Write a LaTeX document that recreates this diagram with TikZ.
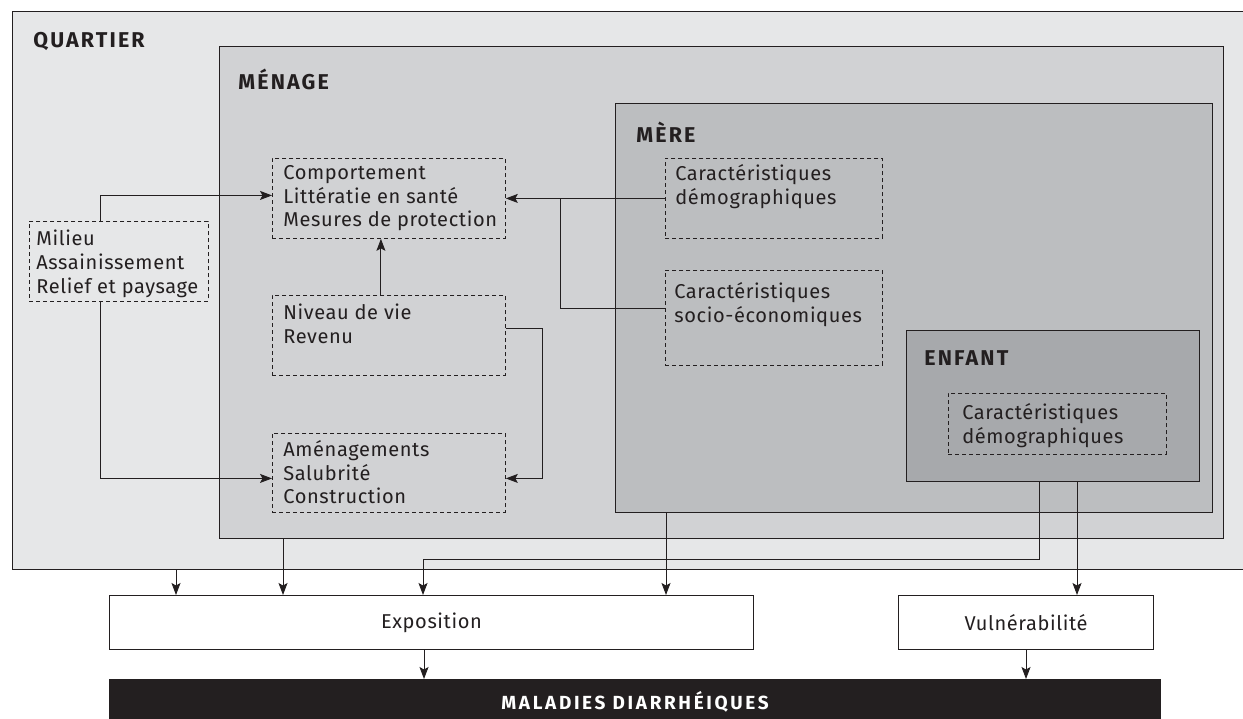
\documentclass[tikz,border=0pt]{standalone}
\usepackage{fontspec}
\setmainfont[LetterSpace=3]{Fira Sans}
\newfontfamily\etiquette[LetterSpace=10]{Fira Sans}
\newfontfamily\bandeau[LetterSpace=14]{Fira Sans}
\usetikzlibrary{arrows.meta,calc}
\definecolor{quartiercol}{HTML}{E6E7E8}
\definecolor{menagecol}{HTML}{D1D2D4}
\definecolor{merecol}{HTML}{BCBEC0}
\definecolor{enfantcol}{HTML}{A7A9AC}
\definecolor{trait}{HTML}{231F20}
\tikzset{
  zone/.style={draw=trait, line width=0.7pt, anchor=north west, inner sep=0pt},
  pointille/.style={draw=trait, line width=0.5pt, dash pattern=on 0.8mm off 0.6mm, anchor=north west, inner sep=0pt},
  boite/.style={draw=trait, line width=0.6pt, fill=white, anchor=north west, inner sep=0pt, text=trait, font=\fontsize{11.4}{13.4}\selectfont},
  texte/.style={anchor=north west, inner sep=0pt, align=left, text=trait, font=\fontsize{11.4}{13.5}\selectfont},
  titre/.style={anchor=west, inner sep=0pt, text=trait, font=\etiquette\bfseries\fontsize{12.2}{14}\selectfont},
  fleche/.style={draw=trait, line width=0.5pt, -{Stealth[length=2.4mm,width=1.8mm,inset=0.5mm]}},
  lien/.style={draw=trait, line width=0.5pt}
}
\begin{document}
\begin{tikzpicture}[x=0.02cm,y=-0.02cm]
\useasboundingbox (0,0) rectangle (1243,719);
\clip (0,0) rectangle (1243,719);
\fill[white] (0,0) rectangle (1243,719);

% niveaux emboites
\node[zone, fill=quartiercol, minimum width=24.8cm, minimum height=11.16cm] (quartier) at (12,11) {};
\node[zone, fill=menagecol, minimum width=20.08cm, minimum height=9.84cm] (menage) at (219,46) {};
\node[zone, fill=merecol, minimum width=11.94cm, minimum height=8.18cm] (mere) at (615,103) {};
\node[zone, fill=enfantcol, minimum width=5.86cm, minimum height=3.02cm] (enfant) at (906,330) {};
\node[titre] (quartier titre) at ($(quartier.north west)+(21,30)$) {QUARTIER};
\node[titre] (menage titre) at ($(menage.north west)+(19,33)$) {MÉNAGE};
\node[titre] (mere titre) at ($(mere.north west)+(21,29)$) {MÈRE};
\node[titre] (enfant titre) at ($(enfant.north west)+(18,28)$) {ENFANT};

% facteurs
\node[pointille, minimum width=3.58cm, minimum height=1.6cm] (milieu) at (29,221) {};
\node[pointille, minimum width=4.66cm, minimum height=1.6cm] (comport) at (272,158) {};
\node[pointille, minimum width=4.66cm, minimum height=1.6cm] (niveau) at (272,295) {};
\node[pointille, minimum width=4.66cm, minimum height=1.58cm] (amen) at (272,433) {};
\node[pointille, minimum width=4.34cm, minimum height=1.6cm] (demo) at (665,158) {};
\node[pointille, minimum width=4.34cm, minimum height=1.9cm] (socio) at (665,270) {};
\node[pointille, minimum width=4.36cm, minimum height=1.22cm] (demoenf) at (948,393) {};

\node[texte] (milieu txt) at ($(milieu.north west)+(7,9)$) {Milieu\\Assainissement\\Relief et paysage};
\node[texte] (comport txt) at ($(comport.north west)+(11,7)$) {Comportement\\Littératie en santé\\Mesures de protection};
\node[texte] (niveau txt) at ($(niveau.north west)+(11,9)$) {Niveau de vie\\Revenu};
\node[texte] (amen txt) at ($(amen.north west)+(11,7)$) {Aménagements\\Salubrité\\Construction};
\node[texte] (demo txt) at ($(demo.north west)+(10,6)$) {Caractéristiques\\démographiques};
\node[texte] (socio txt) at ($(socio.north west)+(9,12)$) {Caractéristiques\\socio-économiques};
\node[texte] (demoenf txt) at ($(demoenf.north west)+(14,10)$) {Caractéristiques\\démographiques};

% issues
\node[boite, minimum width=12.88cm, minimum height=1.08cm] (expo) at (109,595) {Exposition};
\node[boite, minimum width=5.1cm, minimum height=1.08cm] (vuln) at (898,595) {Vulnérabilité};
\node[zone, fill=trait, minimum width=21.02cm, minimum height=0.9cm, text=white,
  font=\bandeau\bfseries\fontsize{10.8}{12}\selectfont] (malad) at (109,679) {\raisebox{2pt}{MALADIES DIARRHÉIQUES}};

% liens
\coordinate (jonction) at ($(comport.east)+(55,0)$);
\draw[fleche] ($(milieu.north west)+(71,0)$) |- ($(comport.west)+(0,-3)$);
\draw[fleche] (demo.west) -- (comport.east);
\draw[lien] ($(socio.west)+(0,-9.5)$) -| (jonction);
\draw[fleche] ($(niveau.north)+(-8,0)$) -- ($(comport.south)+(-8,0)$);
\draw[fleche] ($(niveau.north east)+(0,33)$) -| ($(amen.east)+(37,5.5)$) -- ($(amen.east)+(0,5.5)$);
\draw[fleche] ($(milieu.south west)+(71,0)$) |- ($(amen.west)+(0,5.5)$);

\draw[fleche] ($(quartier.south west)+(164,0)$) -- ($(expo.north west)+(67,0)$);
\draw[fleche] ($(menage.south west)+(64,0)$) -- ($(expo.north west)+(174,0)$);
\draw[fleche] ($(mere.south west)+(51,0)$) -- ($(expo.north west)+(557,0)$);
\draw[fleche] ($(enfant.south west)+(133,0)$) -- ++(0,77) -| ($(expo.north west)+(314,0)$);
\draw[fleche] ($(enfant.south west)+(171,0)$) -- ($(vuln.north west)+(179,0)$);

\draw[fleche] ($(expo.south west)+(315,0)$) -- ($(malad.north west)+(315,0)$);
\draw[fleche] (vuln.south) -- (vuln.south |- malad.north);
\end{tikzpicture}
\end{document}
